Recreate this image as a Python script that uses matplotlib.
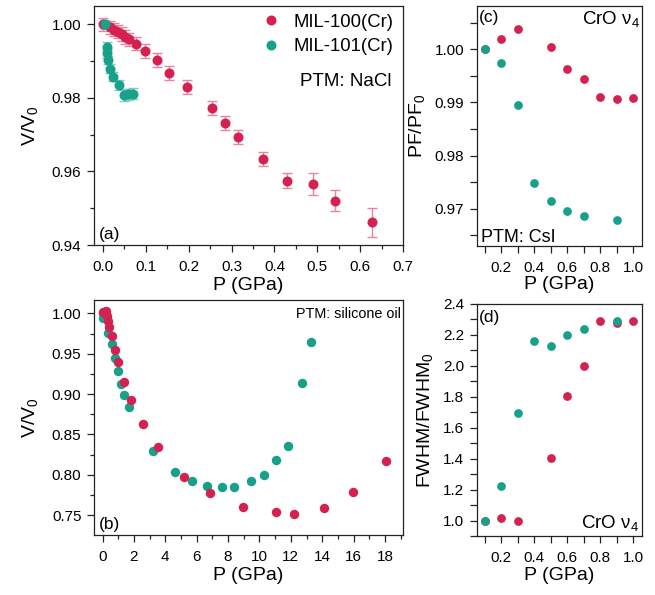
import matplotlib
matplotlib.use("Agg")
import matplotlib.pyplot as plt
from matplotlib.ticker import MultipleLocator, FixedLocator, FormatStrFormatter

plt.rcParams['font.family'] = ['Liberation Sans', 'DejaVu Sans']
plt.rcParams['mathtext.fontset'] = 'custom'
plt.rcParams['mathtext.rm'] = 'Liberation Sans'

RED = '#d42150'
GREEN = '#17a08a'
RED_ERR = '#e9839f'
GREEN_ERR = '#7fcbbd'

# ---- panel (a): PTM NaCl ----
a100_p = [0.001, 0.017, 0.026, 0.036, 0.044, 0.052, 0.061, 0.078, 0.099, 0.126, 0.155,
          0.197, 0.254, 0.284, 0.315, 0.373, 0.429, 0.490, 0.540, 0.628]
a100_v = [1.0000, 0.9992, 0.9986, 0.9980, 0.9974, 0.9966, 0.9959, 0.9948, 0.9928, 0.9903, 0.9868,
          0.9829, 0.9772, 0.9731, 0.9693, 0.9633, 0.9575, 0.9566, 0.9521, 0.9462]
a100_e = [0.0018, 0.0018, 0.0018, 0.0018, 0.0018, 0.0018, 0.0018, 0.0018, 0.0019, 0.0019, 0.0019,
          0.0019, 0.0019, 0.0019, 0.0019, 0.0019, 0.0020, 0.0030, 0.0029, 0.0040]
a101_p = [0.006, 0.009, 0.009, 0.013, 0.017, 0.023, 0.039, 0.050, 0.060, 0.070]
a101_v = [1.0000, 0.9939, 0.9921, 0.9903, 0.9880, 0.9858, 0.9835, 0.9808, 0.9810, 0.9812]
a101_e = [0.0012, 0.0012, 0.0012, 0.0012, 0.0012, 0.0012, 0.0013, 0.0015, 0.0015, 0.0015]

# ---- panel (b): PTM silicone oil ----
b100_p = [0.04, 0.21, 0.26, 0.36, 0.42, 0.57, 0.78, 0.99, 1.38, 1.80, 2.55, 3.51, 5.18,
          6.85, 8.93, 11.07, 12.20, 14.13, 15.98, 18.07]
b100_v = [1.0016, 1.0030, 0.9967, 0.9904, 0.9835, 0.9720, 0.9540, 0.9395, 0.9150, 0.8930,
          0.8634, 0.8340, 0.7970, 0.7780, 0.7605, 0.7540, 0.7510, 0.7590, 0.7790, 0.8170]
b101_p = [0.00, 0.04, 0.36, 0.57, 0.78, 0.99, 1.15, 1.38, 1.68, 3.19, 4.61, 5.72,
          6.66, 7.60, 8.37, 9.44, 10.29, 11.05, 11.84, 12.69, 13.30]
b101_v = [1.0000, 0.9946, 0.9760, 0.9615, 0.9450, 0.9290, 0.9130, 0.8990, 0.8840, 0.8300,
          0.8040, 0.7925, 0.7860, 0.7850, 0.7855, 0.7925, 0.8000, 0.8190, 0.8360, 0.9140, 0.9650]

# ---- panel (c): PF/PF0, CrO nu4, PTM CsI ----
c100_p = [0.1, 0.2, 0.3, 0.5, 0.6, 0.7, 0.8, 0.9, 1.0]
c100_v = [1.0000, 1.0019, 1.0039, 1.0005, 0.99635, 0.99434, 0.99094, 0.99063, 0.99082]
c101_p = [0.1, 0.2, 0.3, 0.4, 0.5, 0.6, 0.7, 0.9]
c101_v = [1.0000, 0.99736, 0.98943, 0.97484, 0.97138, 0.96956, 0.96855, 0.96780]

# ---- panel (d): FWHM/FWHM0 ----
d100_p = [0.1, 0.2, 0.3, 0.5, 0.6, 0.7, 0.8, 0.9, 1.0]
d100_v = [1.000, 1.013, 0.994, 1.403, 1.806, 1.999, 2.292, 2.275, 2.290]
d101_p = [0.1, 0.2, 0.3, 0.4, 0.5, 0.6, 0.7, 0.9]
d101_v = [1.000, 1.220, 1.698, 2.163, 2.129, 2.198, 2.236, 2.292]

labels = ['MIL-100(Cr)', 'MIL-101(Cr)']

fig = plt.figure(figsize=(6.55, 5.95), dpi=100)
ax_a = fig.add_axes([0.1435, 0.5882, 0.4722, 0.4017])
ax_b = fig.add_axes([0.1435, 0.1008, 0.4713, 0.3950])
ax_c = fig.add_axes([0.7278, 0.5871, 0.2519, 0.4029])
ax_d = fig.add_axes([0.7278, 0.0992, 0.2519, 0.3899])

TICK_FS = 11
LAB_FS = 14
PANEL_FS = 12.5


def style(ax):
    for s in ax.spines.values():
        s.set_linewidth(0.9)
        s.set_color('#222222')
    ax.tick_params(which='both', direction='out', top=False, right=False,
                   labelsize=TICK_FS, color='#222222', width=0.9)
    ax.tick_params(which='major', length=5)
    ax.tick_params(which='minor', length=3)
    ax.tick_params(axis='x', which='major', pad=6)
    ax.tick_params(axis='y', which='major', pad=4)


# (a)
ms = 7.2
ax_a.errorbar(a100_p, a100_v, yerr=a100_e, fmt='none', ecolor=RED_ERR, elinewidth=1.0,
              capsize=3.5, capthick=1.0, zorder=2)
ax_a.errorbar(a101_p, a101_v, yerr=a101_e, fmt='none', ecolor=GREEN_ERR, elinewidth=1.0,
              capsize=3.5, capthick=1.0, zorder=2)
ax_a.plot(a100_p, a100_v, 'o', color=RED, ms=ms, mec='none', zorder=3, label=labels[0])
ax_a.plot(a101_p, a101_v, 'o', color=GREEN, ms=ms, mec='none', zorder=4, label=labels[1])
ax_a.set_xlim(-0.0203, 0.7)
ax_a.set_ylim(0.94, 1.005)
ax_a.xaxis.set_major_locator(MultipleLocator(0.1))
ax_a.xaxis.set_minor_locator(MultipleLocator(0.05))
ax_a.yaxis.set_major_locator(MultipleLocator(0.02))
ax_a.yaxis.set_minor_locator(MultipleLocator(0.01))
ax_a.xaxis.set_major_formatter(FormatStrFormatter('%.1f'))
ax_a.yaxis.set_major_formatter(FormatStrFormatter('%.2f'))
style(ax_a)
ax_a.set_xlabel('P (GPa)', fontsize=LAB_FS, labelpad=2)
ax_a.set_ylabel(r'V/V$_\mathregular{0}$', fontsize=LAB_FS, labelpad=8)
ax_a.legend(loc='upper left', bbox_to_anchor=(0.505, 1.015), frameon=False, fontsize=13.3,
            handlelength=1.0, handletextpad=0.75, labelspacing=0.42, borderaxespad=0.2)
ax_a.text(0.665, 0.665, 'PTM: NaCl', transform=ax_a.transAxes, fontsize=13.5)
ax_a.text(0.017, 0.025, '(a)', transform=ax_a.transAxes, fontsize=PANEL_FS)

# (b)
ms_b = 6.8
ax_b.plot(b101_p, b101_v, 'o', color=GREEN, ms=ms_b, mec='none', zorder=3)
ax_b.plot(b100_p, b100_v, 'o', color=RED, ms=ms_b, mec='none', zorder=4)
ax_b.set_xlim(-0.55, 19.13)
ax_b.set_ylim(0.7255, 1.0165)
ax_b.xaxis.set_major_locator(MultipleLocator(2))
ax_b.xaxis.set_minor_locator(MultipleLocator(1))
ax_b.yaxis.set_major_locator(MultipleLocator(0.05))
ax_b.yaxis.set_minor_locator(MultipleLocator(0.025))
ax_b.yaxis.set_major_formatter(FormatStrFormatter('%.2f'))
style(ax_b)
ax_b.set_xlabel('P (GPa)', fontsize=LAB_FS, labelpad=2)
ax_b.set_ylabel(r'V/V$_\mathregular{0}$', fontsize=LAB_FS, labelpad=8)
ax_b.text(0.655, 0.925, 'PTM: silicone oil', transform=ax_b.transAxes, fontsize=10.4)
ax_b.text(0.017, 0.025, '(b)', transform=ax_b.transAxes, fontsize=PANEL_FS)

# (c)
ms_c = 6.3
ax_c.plot(c100_p, c100_v, 'o', color=RED, ms=ms_c, mec='none', zorder=3)
ax_c.plot(c101_p, c101_v, 'o', color=GREEN, ms=ms_c, mec='none', zorder=4)
ax_c.set_xlim(0.05, 1.051)
ax_c.set_ylim(0.963, 1.0082)
ax_c.xaxis.set_major_locator(MultipleLocator(0.2))
ax_c.xaxis.set_minor_locator(FixedLocator([0.1, 0.3, 0.5, 0.7, 0.9]))
ax_c.yaxis.set_major_locator(MultipleLocator(0.01))
ax_c.yaxis.set_minor_locator(MultipleLocator(0.005))
ax_c.xaxis.set_major_formatter(FormatStrFormatter('%.1f'))
ax_c.yaxis.set_major_formatter(FormatStrFormatter('%.2f'))
style(ax_c)
ax_c.tick_params(which='minor', length=5)
ax_c.set_xlabel('P (GPa)', fontsize=LAB_FS, labelpad=1)
ax_c.set_ylabel(r'PF/PF$_\mathregular{0}$', fontsize=LAB_FS, labelpad=5)
ax_c.text(0.015, 0.985, '(c)', transform=ax_c.transAxes, fontsize=PANEL_FS, va='top')
ax_c.text(0.99, 0.985, r'CrO ν$_\mathregular{4}$', transform=ax_c.transAxes, fontsize=13.5,
          ha='right', va='top')
ax_c.text(0.025, 0.015, 'PTM: CsI', transform=ax_c.transAxes, fontsize=13)

# (d)
ax_d.plot(d100_p, d100_v, 'o', color=RED, ms=ms_c, mec='none', zorder=3)
ax_d.plot(d101_p, d101_v, 'o', color=GREEN, ms=ms_c, mec='none', zorder=4)
ax_d.set_xlim(0.05, 1.051)
ax_d.set_ylim(0.9, 2.4)
ax_d.xaxis.set_major_locator(MultipleLocator(0.2))
ax_d.xaxis.set_minor_locator(FixedLocator([0.1, 0.3, 0.5, 0.7, 0.9]))
ax_d.yaxis.set_major_locator(MultipleLocator(0.2))
ax_d.yaxis.set_minor_locator(MultipleLocator(0.1))
ax_d.xaxis.set_major_formatter(FormatStrFormatter('%.1f'))
ax_d.yaxis.set_major_formatter(FormatStrFormatter('%.1f'))
style(ax_d)
ax_d.tick_params(which='minor', length=5)
ax_d.set_xlabel('P (GPa)', fontsize=LAB_FS, labelpad=1)
ax_d.set_ylabel(r'FWHM/FWHM$_\mathregular{0}$', fontsize=LAB_FS, labelpad=5)
ax_d.text(0.015, 0.975, '(d)', transform=ax_d.transAxes, fontsize=PANEL_FS, va='top')
ax_d.text(0.985, 0.03, r'CrO ν$_\mathregular{4}$', transform=ax_d.transAxes, fontsize=13.5,
          ha='right')

fig.savefig('out.png', dpi=100)
